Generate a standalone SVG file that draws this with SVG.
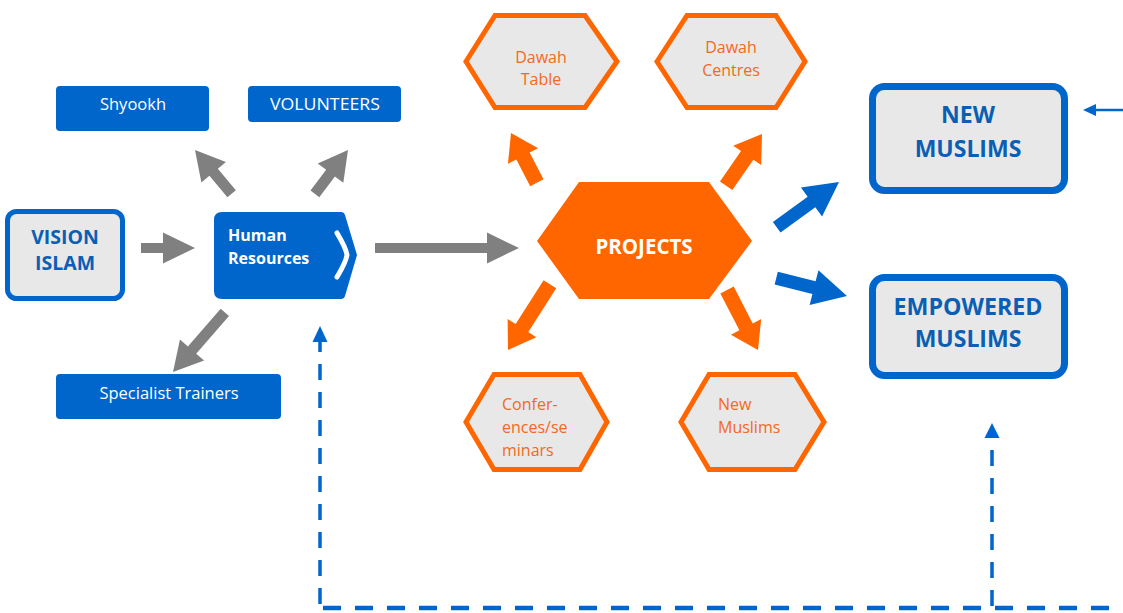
<svg xmlns="http://www.w3.org/2000/svg" width="1123" height="613" viewBox="0 0 1123 613">
  <defs>
    <style>
      text { font-family: "Open Sans", "Noto Sans", sans-serif; }
      .blue-box { fill: #0066cc; }
      .blue-txt { fill: #ffffff; font-size: 16.5px; text-anchor: middle; }
      .goal-box { fill: #e8e8e8; stroke: #0066cc; }
      .goal-txt { fill: #0a5fb4; font-weight: bold; text-anchor: middle; }
      .hex { fill: #e8e8e8; stroke: #ff6600; stroke-width: 5; stroke-linejoin: miter; }
      .hex-txt { fill: #f26a1b; font-size: 16px; }
      .gray { fill: #808080; }
      .orange { fill: #ff6600; }
      .blue { fill: #0066cc; }
      .dash-v { fill: none; stroke: #0066cc; stroke-width: 3.5; stroke-dasharray: 16 12; }
      .dash-h { fill: none; stroke: #0066cc; stroke-width: 4.5; stroke-dasharray: 18 14; }
    </style>
  </defs>

  <!-- Nodes -->
  <g id="vision-islam">
    <rect class="goal-box" x="7.5" y="211.5" width="115" height="87" rx="9" stroke-width="5"/>
    <text class="goal-txt" font-size="19.5" x="65" y="244">VISION</text>
    <text class="goal-txt" font-size="19.5" x="65" y="270">ISLAM</text>
  </g>

  <g id="shyookh">
    <rect class="blue-box" x="56" y="86" width="153" height="45" rx="4"/>
    <text class="blue-txt" x="133" y="110">Shyookh</text>
  </g>

  <g id="volunteers">
    <rect class="blue-box" x="248" y="86" width="153" height="36" rx="4"/>
    <text class="blue-txt" x="325" y="110" textLength="110" lengthAdjust="spacingAndGlyphs">VOLUNTEERS</text>
  </g>

  <g id="specialist-trainers">
    <rect class="blue-box" x="56" y="374" width="225" height="45" rx="4"/>
    <text class="blue-txt" x="169" y="399">Specialist Trainers</text>
  </g>

  <g id="human-resources">
    <path class="blue-box" d="M222,212 H341 Q344,212 345,215 L357,255 L345,296 Q344,299 341,299 H222 Q214,299 214,291 V220 Q214,212 222,212 Z"/>
    <path d="M337,233 Q346,248 347,255 Q346,262 337,277" fill="none" stroke="#ffffff" stroke-width="5" stroke-linecap="round" stroke-linejoin="round"/>
    <text fill="#ffffff" font-size="16" font-weight="bold" x="228" y="241">Human</text>
    <text fill="#ffffff" font-size="16" font-weight="bold" x="228" y="264">Resources</text>
  </g>

  <g id="projects">
    <path class="orange" d="M537,241 L579,182 L709,182 L752,241 L709,299 L579,299 Z"/>
    <text fill="#ffffff" font-size="20.5" font-weight="bold" text-anchor="middle" x="644" y="254">PROJECTS</text>
  </g>

  <g id="dawah-table">
    <path class="hex" d="M466,61.5 L495,15.5 L585,15.5 L617,61.5 L585,107.5 L495,107.5 Z"/>
    <text class="hex-txt" text-anchor="middle" x="541" y="63">Dawah</text>
    <text class="hex-txt" text-anchor="middle" x="541" y="85">Table</text>
  </g>

  <g id="dawah-centres">
    <path class="hex" d="M657,61.5 L687,15.5 L776,15.5 L805,61.5 L776,107.5 L687,107.5 Z"/>
    <text class="hex-txt" text-anchor="middle" x="731" y="53">Dawah</text>
    <text class="hex-txt" text-anchor="middle" x="731" y="76">Centres</text>
  </g>

  <g id="conferences">
    <path class="hex" d="M466,422 L494,374.5 L580,374.5 L607,422 L580,469.5 L494,469.5 Z"/>
    <text class="hex-txt" x="502" y="410">Confer-</text>
    <text class="hex-txt" x="502" y="433">ences/se</text>
    <text class="hex-txt" x="502" y="456">minars</text>
  </g>

  <g id="new-muslims-project">
    <path class="hex" d="M681,422 L709,374.5 L795,374.5 L824,422 L795,469.5 L709,469.5 Z"/>
    <text class="hex-txt" x="718" y="410">New</text>
    <text class="hex-txt" x="718" y="433">Muslims</text>
  </g>

  <g id="new-muslims">
    <rect class="goal-box" x="872.5" y="86.5" width="192" height="104" rx="12" stroke-width="7"/>
    <text class="goal-txt" font-size="23" x="968" y="123">NEW</text>
    <text class="goal-txt" font-size="23" x="968" y="157">MUSLIMS</text>
  </g>

  <g id="empowered-muslims">
    <rect class="goal-box" x="872.5" y="277.5" width="192" height="98" rx="12" stroke-width="7"/>
    <text class="goal-txt" font-size="23" x="968" y="315" textLength="149" lengthAdjust="spacingAndGlyphs">EMPOWERED</text>
    <text class="goal-txt" font-size="23" x="968" y="347">MUSLIMS</text>
  </g>

  <!-- Connectors: block arrows drawn with the tip at the local origin, pointing along +x -->
  <g id="connectors">
    <!-- grey arrows -->
    <path class="gray" transform="translate(195,248)" d="M-54,-5 H-32 V-15.5 L0,0 L-32,15.5 V5 H-54 Z"/>
    <path class="gray" transform="translate(195,150) rotate(-130)" d="M-57,-5.5 H-29 V-16 L0,0 L-29,16 V5.5 H-57 Z"/>
    <path class="gray" transform="translate(348,150) rotate(-53)" d="M-55,-5.5 H-29 V-16 L0,0 L-29,16 V5.5 H-55 Z"/>
    <path class="gray" transform="translate(173,372) rotate(131)" d="M-79,-5.5 H-29 V-16 L0,0 L-29,16 V5.5 H-79 Z"/>
    <path class="gray" transform="translate(519,248)" d="M-144,-5 H-32 V-15.5 L0,0 L-32,15.5 V5 H-144 Z"/>

    <!-- orange arrows -->
    <path class="orange" transform="translate(511,133) rotate(-117.5)" d="M-56,-7.5 H-26 V-17 L0,0 L-26,17 V7.5 H-56 Z"/>
    <path class="orange" transform="translate(762,134) rotate(-55.3)" d="M-63,-7.5 H-26 V-17 L0,0 L-26,17 V7.5 H-63 Z"/>
    <path class="orange" transform="translate(508,350) rotate(122.5)" d="M-78,-7.5 H-26 V-17 L0,0 L-26,17 V7.5 H-78 Z"/>
    <path class="orange" transform="translate(758,350) rotate(62.7)" d="M-67.5,-7.5 H-26 V-17 L0,0 L-26,17 V7.5 H-67.5 Z"/>

    <!-- blue arrows -->
    <path class="blue" transform="translate(839,182) rotate(-36)" d="M-77,-6.5 H-34 V-18 L0,0 L-34,18 V6.5 H-77 Z"/>
    <path class="blue" transform="translate(847,296) rotate(14.2)" d="M-73,-6.5 H-34 V-18 L0,0 L-34,18 V6.5 H-73 Z"/>

    <!-- thin arrow into NEW MUSLIMS -->
    <line x1="1123" y1="110" x2="1093" y2="110" stroke="#0066cc" stroke-width="2.5"/>
    <path class="blue" d="M1083,110 L1096,104 L1096,116 Z"/>

    <!-- dashed feedback loop -->
    <path class="dash-h" d="M323,608 H1123"/>
    <path class="dash-v" d="M320,604 V342"/>
    <path class="blue" d="M320,326 L327.5,342 L312.5,342 Z"/>
    <path class="dash-v" d="M992,606 V437"/>
    <path class="blue" d="M992,423 L999.5,438 L984.5,438 Z"/>
  </g>
</svg>
